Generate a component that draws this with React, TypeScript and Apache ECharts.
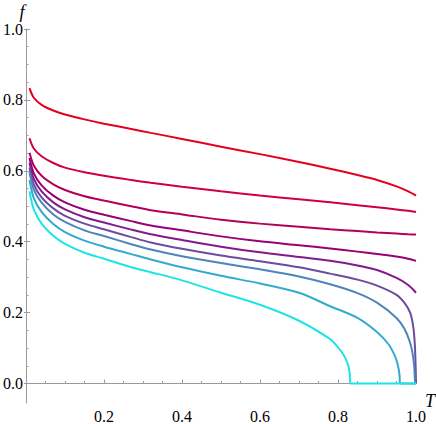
import React, { useEffect, useRef } from "react";
import * as echarts from "echarts";

// Shared temperature grid (T) for the common part of every curve
const tBase = [0.009, 0.02, 0.04, 0.07, 0.1, 0.15, 0.2, 0.27, 0.32, 0.4, 0.5, 0.6, 0.7, 0.78];

// f values on tBase, top curve (red) to bottom curve (cyan)
const f1 = [0.833, 0.806, 0.786, 0.770, 0.759, 0.745, 0.733, 0.718, 0.707, 0.690, 0.668, 0.647, 0.625, 0.606];
const f2 = [0.692, 0.663, 0.641, 0.622, 0.609, 0.596, 0.586, 0.574, 0.566, 0.555, 0.542, 0.530, 0.520, 0.511];
const f3 = [0.651, 0.615, 0.586, 0.562, 0.546, 0.528, 0.516, 0.500, 0.489, 0.477, 0.462, 0.451, 0.442, 0.435];
const f4 = [0.636, 0.593, 0.559, 0.530, 0.511, 0.490, 0.476, 0.458, 0.446, 0.432, 0.415, 0.401, 0.390, 0.381];
const f5 = [0.623, 0.577, 0.542, 0.511, 0.491, 0.469, 0.454, 0.434, 0.421, 0.405, 0.386, 0.370, 0.357, 0.346];
const f6 = [0.609, 0.562, 0.525, 0.494, 0.473, 0.451, 0.435, 0.413, 0.398, 0.380, 0.361, 0.345, 0.328, 0.310];
const f7 = [0.596, 0.547, 0.510, 0.477, 0.456, 0.432, 0.416, 0.393, 0.378, 0.359, 0.340, 0.322, 0.302, 0.280];
const f8 = [0.574, 0.523, 0.484, 0.450, 0.427, 0.403, 0.386, 0.365, 0.350, 0.328, 0.304, 0.282, 0.256, 0.218];
const f9 = [0.542, 0.491, 0.451, 0.417, 0.394, 0.369, 0.352, 0.328, 0.314, 0.291, 0.256, 0.222, 0.177, 0.125];

// Tails (T > 0.78)
const tailT15 = [0.85, 0.9, 0.95, 0.98, 1.0];
const tail1 = [0.588, 0.574, 0.556, 0.542, 0.530];
const tail2 = [0.503, 0.497, 0.491, 0.487, 0.484];
const tail3 = [0.430, 0.426, 0.423, 0.421, 0.420];
const tail4 = [0.372, 0.365, 0.358, 0.352, 0.346];
const tail5 = [0.333, 0.320, 0.298, 0.278, 0.256];
const tailT6 = [0.85, 0.9, 0.95, 0.97, 0.985, 0.993, 0.997, 0.999, 1.0];
const tail6 = [0.293, 0.276, 0.250, 0.228, 0.200, 0.160, 0.110, 0.050, 0];
const tailT7 = [0.85, 0.9, 0.95, 0.97, 0.985, 0.992, 0.996, 0.998, 1.0];
const tail7 = [0.255, 0.228, 0.185, 0.155, 0.115, 0.080, 0.040, 0, 0];
const tailT8 = [0.85, 0.9, 0.93, 0.945, 0.952, 0.956, 0.958, 0.959, 1.0];
const tail8 = [0.185, 0.145, 0.110, 0.080, 0.058, 0.038, 0.020, 0, 0];
const tailT9 = [0.8, 0.815, 0.825, 0.83, 0.832, 1.0];
const tail9 = [0.102, 0.080, 0.055, 0.030, 0, 0];

const colors = ["#e4001f", "#cf003e", "#b4005a", "#990074", "#83198a", "#6a4d9f", "#4d84bd", "#33abcf", "#1fe4e6"];

// Tick values
const xMajor = [0.2, 0.4, 0.6, 0.8, 1.0];
const xMinor = [0.05, 0.1, 0.15, 0.25, 0.3, 0.35, 0.45, 0.5, 0.55, 0.65, 0.7, 0.75, 0.85, 0.9, 0.95];
const yMajor = [0, 0.2, 0.4, 0.6, 0.8, 1.0];
const yMinor = [0.05, 0.1, 0.15, 0.25, 0.3, 0.35, 0.45, 0.5, 0.55, 0.65, 0.7, 0.75, 0.85, 0.9, 0.95];

const curves = [
  { f: f1, tt: tailT15, tf: tail1 },
  { f: f2, tt: tailT15, tf: tail2 },
  { f: f3, tt: tailT15, tf: tail3 },
  { f: f4, tt: tailT15, tf: tail4 },
  { f: f5, tt: tailT15, tf: tail5 },
  { f: f6, tt: tailT6, tf: tail6 },
  { f: f7, tt: tailT7, tf: tail7 },
  { f: f8, tt: tailT8, tf: tail8 },
  { f: f9, tt: tailT9, tf: tail9 },
];

const AXIS = "#9a9a9a";
const FONT = "Liberation Serif";
const Y_MIN = -0.055;

export default function App() {
  const ref = useRef<HTMLDivElement>(null);
  useEffect(() => {
    if (!ref.current) return;
    const chart = echarts.init(ref.current, undefined, { renderer: "svg" });
    const series = curves.map((c, i) => ({
      type: "line",
      xAxisIndex: 0,
      yAxisIndex: 0,
      showSymbol: false,
      smooth: 0.3,
      lineStyle: { color: colors[i], width: 2 },
      itemStyle: { color: colors[i] },
      data: tBase.map((t, j) => [t, c.f[j]]).concat(c.tt.map((t, j) => [t, c.tf[j]])),
    }));
    const rich = { n: { fontFamily: FONT, fontSize: 16, color: "#000", lineHeight: 16 } };
    const fmt = (v: number) => `{n|${v.toFixed(1)}}`;
    const hiddenLine = { show: false, onZero: true };
    chart.setOption({
      animation: false,
      textStyle: { fontFamily: FONT },
      grid: { left: 23, right: 20, top: 29, bottom: 1, containLabel: false },
      xAxis: [
        {
          type: "value", min: 0, max: 1, position: "bottom",
          axisLine: { show: true, onZero: true, lineStyle: { color: AXIS, width: 1 } },
          axisTick: { show: true, inside: true, length: 4, customValues: xMajor, lineStyle: { color: AXIS } },
          axisLabel: { show: true, customValues: xMajor, formatter: fmt, rich, margin: 5, fontFamily: FONT, fontSize: 16, color: "#000" },
          splitLine: { show: false },
        },
        {
          type: "value", min: 0, max: 1, position: "bottom",
          axisLine: hiddenLine,
          axisTick: { show: true, inside: true, length: 2.5, customValues: xMinor, lineStyle: { color: AXIS } },
          axisLabel: { show: false },
          splitLine: { show: false },
        },
      ],
      yAxis: [
        {
          type: "value", min: Y_MIN, max: 1, position: "left",
          axisLine: { show: true, onZero: true, lineStyle: { color: AXIS, width: 1 } },
          axisTick: { show: true, inside: true, length: 4, customValues: yMajor, lineStyle: { color: AXIS } },
          axisLabel: { show: true, customValues: yMajor, formatter: fmt, rich, margin: 3, fontFamily: FONT, fontSize: 16, color: "#000" },
          splitLine: { show: false },
        },
        {
          type: "value", min: Y_MIN, max: 1, position: "left",
          axisLine: hiddenLine,
          axisTick: { show: true, inside: true, length: 2.5, customValues: yMinor, lineStyle: { color: AXIS } },
          axisLabel: { show: false },
          splitLine: { show: false },
        },
        {
          type: "value", min: Y_MIN, max: 1, position: "left",
          axisLine: hiddenLine,
          axisTick: { show: true, inside: false, length: 2, customValues: yMajor, lineStyle: { color: AXIS } },
          axisLabel: { show: false },
          splitLine: { show: false },
        },
      ],
      graphic: [
        { type: "text", x: 22, y: 12, style: { text: "f", fontFamily: FONT, fontStyle: "italic", fontSize: 18, fill: "#000", textAlign: "center", textVerticalAlign: "middle" } },
        { type: "text", x: 425, y: 401, style: { text: "T", fontFamily: FONT, fontStyle: "italic", fontSize: 18, fill: "#000", textAlign: "left", textVerticalAlign: "middle" } },
      ],
      series,
    });
    return () => chart.dispose();
  }, []);
  return <div ref={ref} style={{ position: "absolute", left: 0, top: 0, width: 436, height: 424 }} />;
}
